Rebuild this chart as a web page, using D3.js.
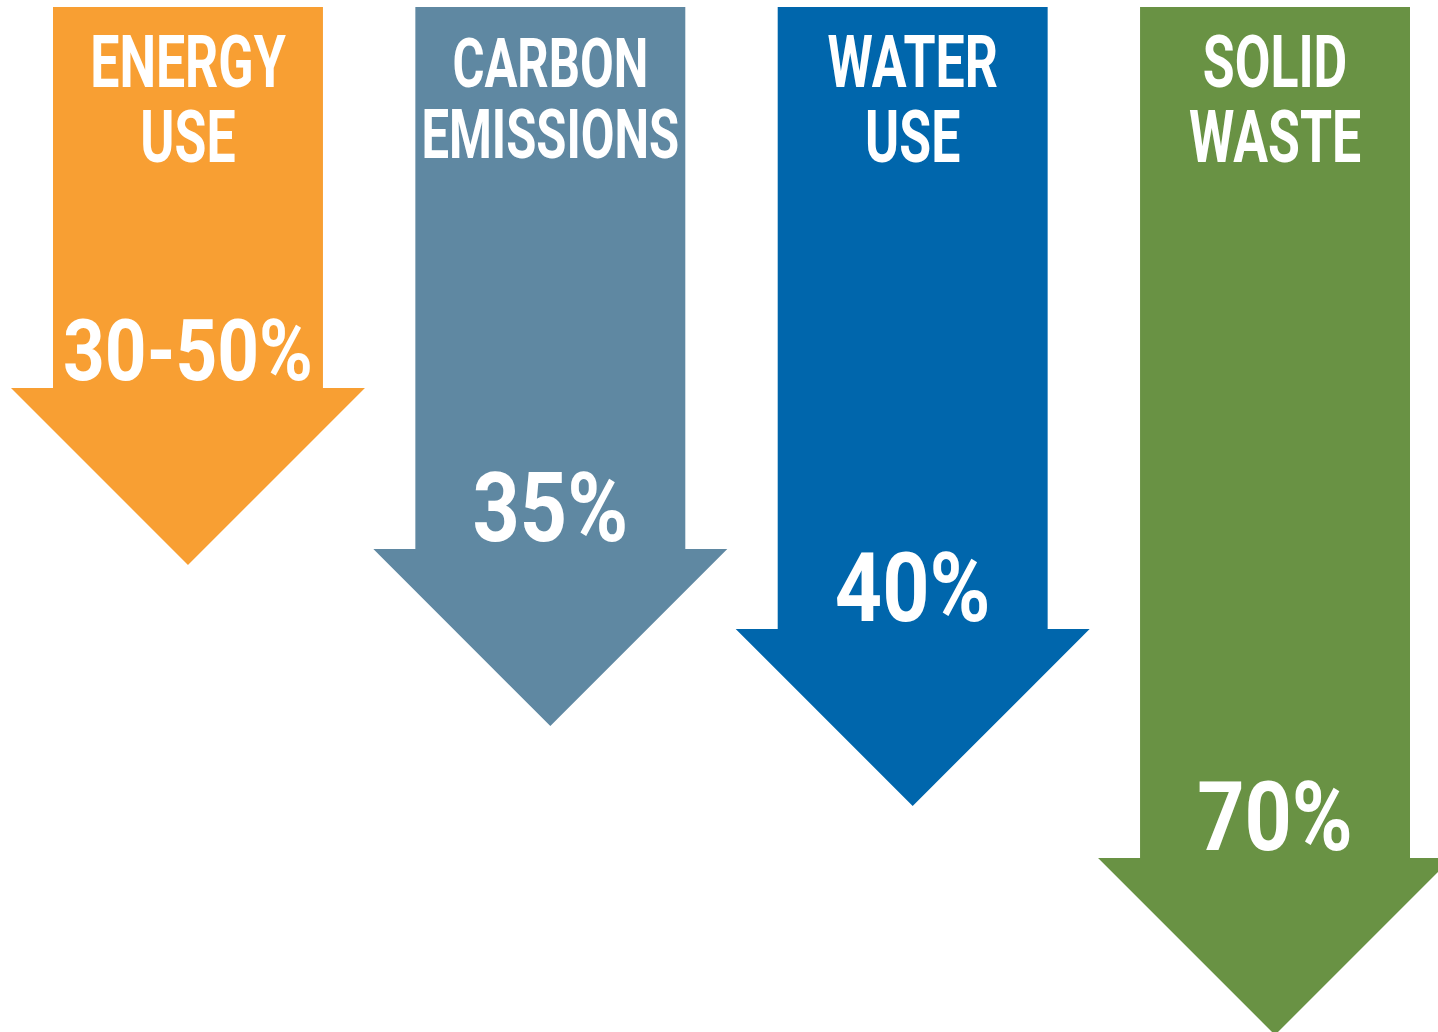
<!DOCTYPE html>
<html>
<head>
<meta charset="utf-8">
<script src="https://cdn.jsdelivr.net/npm/d3@7"></script>
<style>
  html, body { margin: 0; padding: 0; background: #fff; overflow: hidden; }
  text { font-family: Roboto, "Liberation Sans", sans-serif; font-weight: 700; fill: #fff; }
</style>
</head>
<body>
<div class="canvas"></div>
<script>
const width = 1438;
const height = 1032;

// reductions shown on the infographic
const categories = ["Energy Use", "Carbon Emissions", "Water Use", "Solid Waste"];
const titleLines = [["ENERGY", "USE"], ["CARBON", "EMISSIONS"], ["WATER", "USE"], ["SOLID", "WASTE"]];
const lowValues = [30, 35, 40, 70];
const highValues = [50, 35, 40, 70];
const valueLabels = ["30-50%", "35%", "40%", "70%"];
const colors = ["#F89F33", "#5F88A2", "#0066AC", "#699244"];

const svg = d3.select(".canvas")
    .append("svg")
    .attr("width", width)
    .attr("height", height)

const topY = 7

const x = d3.scaleBand()
    .domain(categories)
    .range([53, 1410])
    .paddingInner(0.255)
    .paddingOuter(0)

// arrow depth is not linear in the original artwork, so use a piecewise scale
const y = d3.scaleLinear()
    .domain(lowValues)
    .range([388, 549, 629, 858])

const bw = x.bandwidth()
const overhang = 42
const half = bw / 2 + overhang

const data = categories.map((c, i) => ({
    cat: c,
    lines: titleLines[i],
    low: lowValues[i],
    high: highValues[i],
    label: valueLabels[i],
    color: colors[i]
}))

const arrows = svg.selectAll("g.arrow")
    .data(data)
    .enter()
    .append("g")
    .attr("class", "arrow")
    .attr("transform", d => `translate(${x(d.cat) + bw / 2}, 0)`)

arrows.append("path")
    .attr("fill", d => d.color)
    .attr("d", d => {
        const b = y(d.low)
        const path = d3.path()
        path.moveTo(-bw / 2, topY)
        path.lineTo(bw / 2, topY)
        path.lineTo(bw / 2, b)
        path.lineTo(half, b)
        path.lineTo(0, b + half)
        path.lineTo(-half, b)
        path.lineTo(-bw / 2, b)
        path.closePath()
        return path.toString()
    })

// condensed look: squeeze glyphs sideways, shrink whole block if a line is too wide
function fitText(t, size, squeeze, maxW, ty) {
    t.attr("font-size", size)
    let w = 0
    const spans = t.selectAll("tspan")
    if (spans.empty()) w = t.node().getComputedTextLength()
    else spans.each(function() { w = Math.max(w, this.getComputedTextLength()) })
    w *= squeeze
    if (w > maxW) t.attr("font-size", size * maxW / w)
    t.attr("transform", `translate(0, ${ty}) scale(${squeeze}, 1)`)
}

arrows.each(function(d) {
    const g = d3.select(this)

    const title = g.append("text")
        .attr("text-anchor", "middle")
    title.selectAll("tspan")
        .data(d.lines)
        .enter()
        .append("tspan")
        .attr("x", 0)
        .attr("dy", (l, j) => j === 0 ? 0 : "1.04em")
        .text(l => l)
    fitText(title, 72, 0.72, bw - 12, topY + 80)

    const val = g.append("text")
        .attr("text-anchor", "middle")
        .text(d.label)
    fitText(val, 96, 0.86, bw - 20, y(d.low) - 8)
})
</script>
</body>
</html>
